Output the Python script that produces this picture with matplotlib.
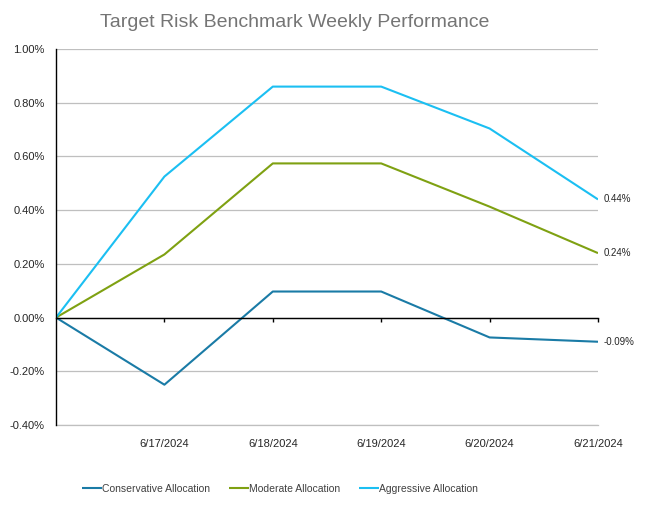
import matplotlib
matplotlib.use("Agg")
import matplotlib.pyplot as plt
from matplotlib.ticker import FuncFormatter, MultipleLocator

plt.rcParams['font.family'] = ['Liberation Sans', 'DejaVu Sans']

dates = ["", "6/17/2024", "6/18/2024", "6/19/2024", "6/20/2024", "6/21/2024"]
conservative = [0.00, -0.25, 0.097, 0.097, -0.074, -0.09]
moderate = [0.00, 0.235, 0.574, 0.574, 0.413, 0.24]
aggressive = [0.00, 0.525, 0.86, 0.86, 0.704, 0.44]
series_names = ["Conservative Allocation", "Moderate Allocation", "Aggressive Allocation"]
colors = ["#1A7BA6", "#7FA112", "#1BBFF2"]
title = "Target Risk Benchmark Weekly Performance"

fig = plt.figure(figsize=(6.5, 5.05), dpi=100)
ax = fig.add_axes([56/650, 1-425/505, (598-56)/650, (425-49)/505])

x = list(range(len(dates)))
for vals, name, c in zip([conservative, moderate, aggressive], series_names, colors):
    ax.plot(x, vals, color=c, lw=1.5, label=name, solid_capstyle='butt')
    ax.text(x[-1] + 0.05, vals[-1], f"{vals[-1]:.2f}%", fontsize=7, va='center', ha='left', color='#262626')

ax.set_xlim(0, 5)
ax.set_ylim(-0.4, 1.0)
ax.yaxis.set_major_locator(MultipleLocator(0.2))
ax.yaxis.set_major_formatter(FuncFormatter(lambda v, p: f"{v:.2f}%"))
ax.grid(axis='y', color='#BFBFBF', lw=0.9)
ax.axhline(-0.4, color='#BFBFBF', lw=0.9, clip_on=False, zorder=0.5)
ax.set_axisbelow(True)
ax.tick_params(axis='y', length=0, labelsize=8, pad=8, colors='#262626')

for s in ['top', 'right']:
    ax.spines[s].set_visible(False)
ax.spines['left'].set_color('black')
ax.spines['left'].set_linewidth(1.0)
ax.spines['bottom'].set_position(('data', 0))
ax.spines['bottom'].set_color('black')
ax.spines['bottom'].set_linewidth(1.0)
ax.set_xticks(x[1:])
ax.tick_params(axis='x', direction='out', length=3, width=1, labelbottom=False, color='black')

sec = ax.secondary_xaxis(0)
sec.set_xticks(x[1:])
sec.set_xticklabels(dates[1:])
sec.tick_params(length=0, labelsize=8, pad=10, colors='#262626')
sec.spines['bottom'].set_visible(False)

fig.text(0.453, 0.955, title, fontsize=14, color='#757575', ha='center', va='center')

fig.legend(loc='center', bbox_to_anchor=(0.431, 0.032), ncol=3, frameon=False,
           fontsize=7.5, handlelength=1.9, handletextpad=0.05, columnspacing=1.8, labelcolor='#404040')

fig.savefig("out.png", dpi=100)
